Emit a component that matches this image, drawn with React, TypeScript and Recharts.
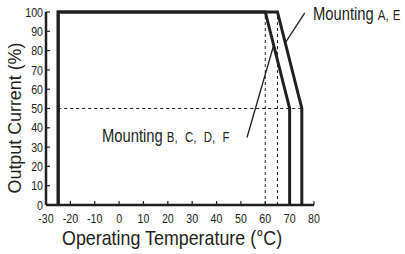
import { LineChart, Line, XAxis, YAxis, ReferenceLine } from 'recharts';

// derating curves: temperature (°C) vs output current (%)
const xTicks = [-30, -20, -10, 0, 10, 20, 30, 40, 50, 60, 70, 80];
const yTicks = [0, 10, 20, 30, 40, 50, 60, 70, 80, 90, 100];

const mountingBCDF = [
  { t: -25, i: 0 },
  { t: -25, i: 100 },
  { t: 60, i: 100 },
  { t: 70, i: 50 },
  { t: 70, i: 0 },
];

const mountingAE = [
  { t: -25, i: 0 },
  { t: -25, i: 100 },
  { t: 65, i: 100 },
  { t: 75, i: 50 },
  { t: 75, i: 0 },
];

// dotted guide lines
const guideTemps = [60, 65];
const guideTempRange = [0, 100];
const guideCurrent = 50;
const guideCurrentRange = [-25, 75];

// leader lines from the labels to the curves
const leaderAE = [
  { t: 68.2, i: 84 },
  { t: 76.2, i: 99.5 },
];
const leaderBCDF = [
  { t: 52.5, i: 35 },
  { t: 63.4, i: 82.5 },
];

const FONT = "'Liberation Sans', Arial, sans-serif";
const INK = '#231f20';
const NARROW = 0.82;

function CondensedTick(props: any) {
  const { x, y, payload, textAnchor, verticalAnchor } = props;
  const dy = verticalAnchor === 'start' ? '0.71em' : '0.355em';
  return (
    <text
      transform={`translate(${x},${y}) scale(${NARROW},1)`}
      textAnchor={textAnchor}
      dy={dy}
      fill={INK}
      fontSize={13}
      fontFamily={FONT}
    >
      {payload.value}
    </text>
  );
}

const label = { position: 'absolute' as const, whiteSpace: 'nowrap' as const, lineHeight: 1, transformOrigin: 'left top' };

export default function App() {
  return (
    <div style={{ position: 'relative', width: 405, height: 254, fontFamily: FONT, color: INK, background: '#fff', overflow: 'hidden' }}>
      <style>{'body{margin:0}'}</style>
      <LineChart width={405} height={254} margin={{ top: 12, right: 91, bottom: 29, left: 6 }}>
        <XAxis
          dataKey="t"
          type="number"
          domain={[-30, 80]}
          ticks={xTicks}
          interval={0}
          allowDataOverflow
          height={20}
          axisLine={{ stroke: INK, strokeWidth: 2.5 }}
          tickLine={{ stroke: INK, strokeWidth: 1.2 }}
          tickSize={-4}
          tickMargin={13}
          tick={<CondensedTick />}
        />
        <YAxis
          dataKey="i"
          type="number"
          domain={[0, 100]}
          ticks={yTicks}
          interval={0}
          width={40}
          axisLine={{ stroke: INK, strokeWidth: 2.5 }}
          tickLine={{ stroke: INK, strokeWidth: 1.2 }}
          tickSize={-4}
          tickMargin={7}
          tick={<CondensedTick />}
        />
        {guideTemps.map((t) => (
          <ReferenceLine
            key={t}
            segment={[
              { x: t, y: guideTempRange[0] },
              { x: t, y: guideTempRange[1] },
            ]}
            stroke={INK}
            strokeWidth={1}
            strokeDasharray="3 3"
          />
        ))}
        <ReferenceLine
          segment={[
            { x: guideCurrentRange[0], y: guideCurrent },
            { x: guideCurrentRange[1], y: guideCurrent },
          ]}
          stroke={INK}
          strokeWidth={1}
          strokeDasharray="3 3"
        />
        <ReferenceLine
          segment={[
            { x: leaderAE[0].t, y: leaderAE[0].i },
            { x: leaderAE[1].t, y: leaderAE[1].i },
          ]}
          stroke={INK}
          strokeWidth={1.3}
        />
        <ReferenceLine
          segment={[
            { x: leaderBCDF[0].t, y: leaderBCDF[0].i },
            { x: leaderBCDF[1].t, y: leaderBCDF[1].i },
          ]}
          stroke={INK}
          strokeWidth={1.3}
        />
        <Line
          data={mountingBCDF}
          dataKey="i"
          type="linear"
          stroke={INK}
          strokeWidth={3}
          dot={false}
          isAnimationActive={false}
        />
        <Line
          data={mountingAE}
          dataKey="i"
          type="linear"
          stroke={INK}
          strokeWidth={3}
          dot={false}
          isAnimationActive={false}
        />
      </LineChart>

      <div style={{ ...label, left: 14, top: 118, transformOrigin: 'center', transform: 'translate(-50%, -50%) rotate(-90deg) scaleX(0.94)', fontSize: 19 }}>
        Output Current (%)
      </div>
      <div style={{ ...label, left: 62, top: 227, transform: 'scaleX(0.85)', fontSize: 21 }}>
        Operating Temperature (°C)
      </div>
      <div style={{ ...label, left: 313, top: 5, transform: `scaleX(${NARROW})`, fontSize: 18 }}>
        Mounting <span style={{ fontSize: 14, wordSpacing: 1 }}>A, E</span>
      </div>
      <div style={{ ...label, left: 102, top: 127, transform: `scaleX(${NARROW})`, fontSize: 18 }}>
        Mounting <span style={{ fontSize: 14, wordSpacing: 5 }}>B, C, D, F</span>
      </div>
    </div>
  );
}
